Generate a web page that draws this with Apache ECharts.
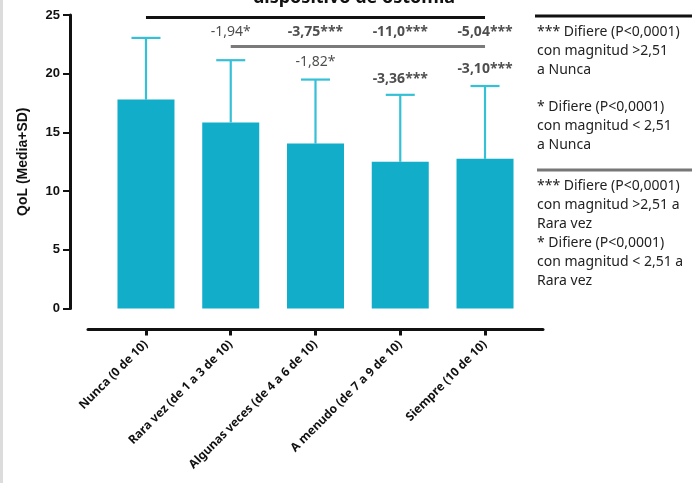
<!DOCTYPE html>
<html>
<head>
<meta charset="utf-8">
<script src="https://cdn.jsdelivr.net/npm/echarts@6/dist/echarts.min.js"></script>
<style>html,body{margin:0;padding:0;background:#fff;}#c{width:692px;height:483px;}</style>
</head>
<body>
<div id="c"></div>
<script>
var categories = ['Nunca (0 de 10)', 'Rara vez (de 1 a 3 de 10)', 'Algunas veces (de 4 a 6 de 10)', 'A menudo (de 7 a 9 de 10)', 'Siempre (10 de 10)'];
var means = [17.8, 15.85, 14.05, 12.5, 12.75];
var sds = [5.25, 5.3, 5.45, 5.7, 6.2];
var yTicks = [0, 5, 10, 15, 20, 25];

var vsNuncaLabels = ['', '-1,94*', '-3,75***', '-11,0***', '-5,04***'];
var vsNuncaLevel = 23.55;
var vsRaraLabels = ['', '', '-1,82*', '-3,36***', '-3,10***'];
var vsRaraLevels = [null, null, 21.0, 19.55, 20.4];
var bracketNunca = [0, 4, 24.77];
var bracketRara = [1, 4, 22.3];

var legendLines1 = ['*** Difiere (P<0,0001)', 'con magnitud >2,51', 'a Nunca', '', '* Difiere (P<0,0001)', 'con magnitud < 2,51', 'a Nunca'];
var legendLines2 = ['*** Difiere (P<0,0001)', 'con magnitud >2,51 a', 'Rara vez', '* Difiere (P<0,0001)', 'con magnitud < 2,51 a', 'Rara vez'];

var BAR = '#12adc9', ERR = '#35c0d6';
var FONT = 'Noto Sans';

var errData = means.map(function (m, i) { return [i, m, +(m + sds[i]).toFixed(2)]; });

function annData(labels, levels) {
  var out = [];
  labels.forEach(function (t, i) {
    if (!t) return;
    var lv = Array.isArray(levels) ? levels[i] : levels;
    out.push({ value: [i, lv], label: { formatter: t, fontWeight: t.indexOf('***') >= 0 ? 'bold' : 'normal' } });
  });
  return out;
}

var graphics = [
  { type: 'rect', shape: { x: 0, y: 0, width: 3, height: 483 }, style: { fill: '#dcdcdc' } },
  { type: 'line', shape: { x1: 535, y1: 16, x2: 692, y2: 16 }, style: { stroke: '#111', lineWidth: 3 } },
  { type: 'line', shape: { x1: 537, y1: 170, x2: 692, y2: 170 }, style: { stroke: '#777', lineWidth: 3 } }
];
legendLines1.forEach(function (t, i) {
  graphics.push({ type: 'text', left: 537, top: 25 + i * 18.8, style: { text: t, font: '14px "' + FONT + '"', fill: '#222' } });
});
legendLines2.forEach(function (t, i) {
  graphics.push({ type: 'text', left: 537, top: 179.5 + i * 19, style: { text: t, font: '14px "' + FONT + '"', fill: '#222' } });
});

var chart = echarts.init(document.getElementById('c'), null, { renderer: 'canvas' });
chart.setOption({
  animation: false,
  backgroundColor: '#fff',
  title: {
    text: 'dispositivo de ostomía', left: 349, top: -16, textAlign: 'center',
    textStyle: { fontFamily: FONT, fontWeight: 'bold', fontSize: 18, color: '#111' }
  },
  grid: [
    { left: 103.6, right: 164.6, top: 15, bottom: 174.5 },
    { left: 88, right: 149, top: 15, bottom: 174.5 }
  ],
  xAxis: [
    {
      type: 'category', data: categories, gridIndex: 0, offset: 21,
      axisLine: { show: false, onZero: false },
      axisTick: { show: true, alignWithLabel: true, length: 6, lineStyle: { color: '#111', width: 3 } },
      axisLabel: { rotate: 45, interval: 0, margin: 13, fontFamily: FONT, fontWeight: 'bold', fontSize: 12, color: '#111' }
    },
    {
      type: 'value', gridIndex: 1, min: 0, max: 1, offset: 21,
      axisLine: { show: true, onZero: false, lineStyle: { color: '#111', width: 3 } },
      axisTick: { show: false }, axisLabel: { show: false }, splitLine: { show: false }
    }
  ],
  yAxis: [
    {
      type: 'value', gridIndex: 0, min: yTicks[0], max: yTicks[yTicks.length - 1], interval: 5, offset: 33.6,
      name: 'QoL (Media+SD)', nameLocation: 'middle', nameGap: 40,
      nameTextStyle: { fontFamily: 'Liberation Sans', fontWeight: 'bold', fontSize: 14, color: '#111' },
      axisLine: { show: true, onZero: false, lineStyle: { color: '#111', width: 3 } },
      axisTick: { show: true, length: 7, lineStyle: { color: '#111', width: 2 } },
      axisLabel: { fontFamily: 'Liberation Sans', fontWeight: 'bold', fontSize: 13, color: '#111', margin: 10 },
      splitLine: { show: false }
    },
    { type: 'value', gridIndex: 1, show: false, min: 0, max: 1 }
  ],
  series: [
    {
      type: 'bar', data: means, barWidth: 57, xAxisIndex: 0, yAxisIndex: 0,
      itemStyle: { color: BAR },
      markLine: {
        symbol: 'none', silent: true, label: { show: false },
        data: [
          [{ coord: [bracketNunca[0], bracketNunca[2]], lineStyle: { color: '#111', width: 3, type: 'solid' } }, { coord: [bracketNunca[1], bracketNunca[2]] }],
          [{ coord: [bracketRara[0], bracketRara[2]], lineStyle: { color: '#7a7a7a', width: 3, type: 'solid' } }, { coord: [bracketRara[1], bracketRara[2]] }]
        ]
      }
    },
    {
      type: 'custom', xAxisIndex: 0, yAxisIndex: 0, data: errData,
      renderItem: function (params, api) {
        var top = api.coord([api.value(0), api.value(1)]);
        var cap = api.coord([api.value(0), api.value(2)]);
        var hw = 14.5;
        var st = { stroke: ERR, lineWidth: 2.2 };
        return {
          type: 'group', children: [
            { type: 'line', shape: { x1: top[0], y1: top[1], x2: cap[0], y2: cap[1] }, style: st },
            { type: 'line', shape: { x1: cap[0] - hw, y1: cap[1], x2: cap[0] + hw, y2: cap[1] }, style: st }
          ]
        };
      }
    },
    {
      type: 'scatter', xAxisIndex: 0, yAxisIndex: 0, symbolSize: 0,
      data: annData(vsNuncaLabels, vsNuncaLevel).concat(annData(vsRaraLabels, vsRaraLevels)),
      label: { show: true, position: 'inside', fontFamily: FONT, fontSize: 14, color: '#222' }
    }
  ],
  graphic: graphics
});
</script>
</body>
</html>
